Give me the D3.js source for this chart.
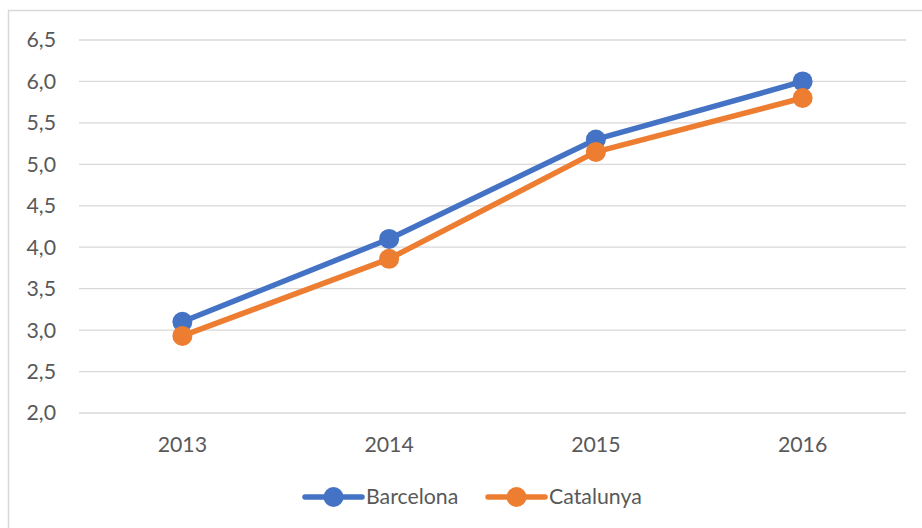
<!DOCTYPE html>
<html><head><meta charset="utf-8">
<script src="https://cdn.jsdelivr.net/npm/d3@7"></script>
<style>body{margin:0;background:#fff}svg{display:block}</style>
</head><body>
<svg id="c" width="922" height="528"></svg>
<script>
const years = ["2013","2014","2015","2016"];
const barcelona = [3.1, 4.1, 5.3, 6.0];
const catalunya = [2.93, 3.86, 5.15, 5.8];
const yTicks = [2.0,2.5,3.0,3.5,4.0,4.5,5.0,5.5,6.0,6.5];
const seriesNames = ["Barcelona","Catalunya"];
const colors = ["#4472C4","#ED7D31"];

const svg = d3.select("#c");
const font = "Lato, 'Open Sans', sans-serif";
const fs = 21.3;
svg.append("rect").attr("x",8.5).attr("y",10.5).attr("width",930).attr("height",540)
  .attr("fill","#fff").attr("stroke","#d9d9d9").attr("stroke-width",1.5);

const x = d3.scaleBand().domain(years).range([79,906]).padding(0);
const y = d3.scaleLinear().domain([2,6.5]).range([413,40]);

svg.append("g").selectAll("line").data(yTicks).join("line")
  .attr("x1",79).attr("x2",906).attr("y1",d=>y(d)).attr("y2",d=>y(d))
  .attr("stroke","#d9d9d9").attr("stroke-width",1.3);

svg.append("g").selectAll("text").data(yTicks).join("text")
  .attr("x",56).attr("y",d=>y(d)).attr("dy","0.35em").attr("text-anchor","end")
  .attr("font-family",font).attr("font-size",fs).attr("fill","#595959")
  .text(d=>d.toFixed(1).replace(".",","));

svg.append("g").selectAll("text").data(years).join("text")
  .attr("x",d=>x(d)+x.bandwidth()/2).attr("y",445).attr("dy","0.35em").attr("text-anchor","middle")
  .attr("font-family",font).attr("font-size",fs).attr("fill","#595959")
  .text(d=>d);

const data = [barcelona, catalunya];
const line = d3.line().x((d,i)=>x(years[i])+x.bandwidth()/2).y(d=>y(d));
data.forEach((vals,k)=>{
  svg.append("path").datum(vals).attr("d",line).attr("fill","none")
    .attr("stroke",colors[k]).attr("stroke-width",5.5).attr("stroke-linejoin","round").attr("stroke-linecap","round");
  svg.append("g").selectAll("circle").data(vals).join("circle")
    .attr("cx",(d,i)=>x(years[i])+x.bandwidth()/2).attr("cy",d=>y(d)).attr("r",10)
    .attr("fill",colors[k]);
});

const legX = [305, 488];
seriesNames.forEach((n,k)=>{
  const g = svg.append("g");
  g.append("line").attr("x1",legX[k]).attr("x2",legX[k]+57).attr("y1",497).attr("y2",497)
    .attr("stroke",colors[k]).attr("stroke-width",5.5).attr("stroke-linecap","round");
  g.append("circle").attr("cx",legX[k]+28.5).attr("cy",497).attr("r",10).attr("fill",colors[k]);
  g.append("text").attr("x",legX[k]+61).attr("y",497).attr("dy","0.35em")
    .attr("font-family",font).attr("font-size",fs).attr("fill","#595959").text(n);
});
</script>
</body></html>
